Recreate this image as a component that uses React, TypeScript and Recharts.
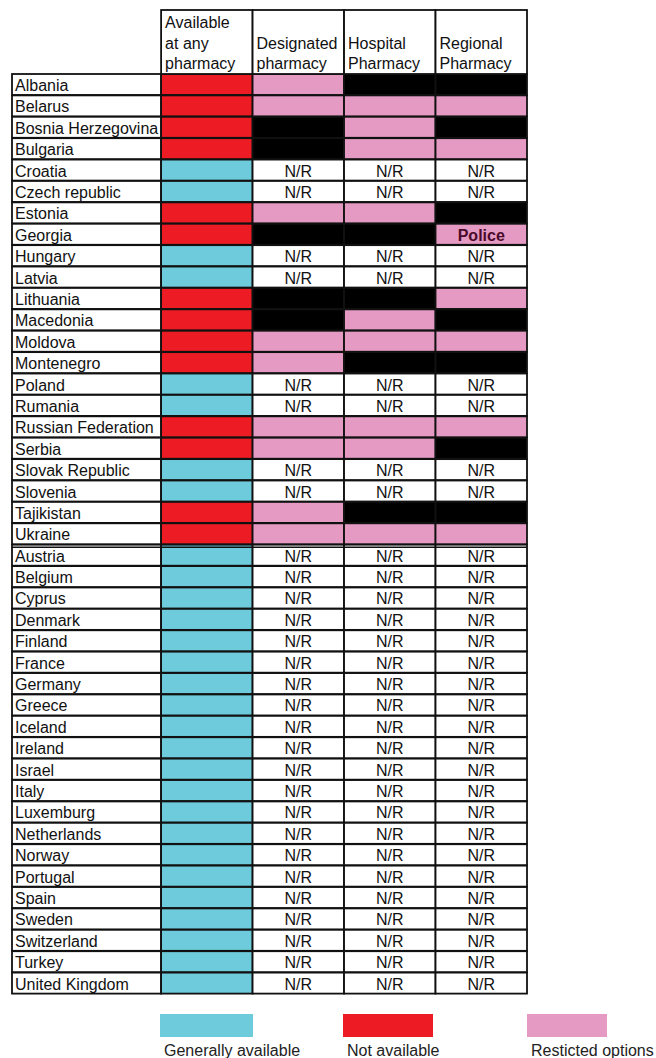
import { BarChart, Bar, XAxis, YAxis, Legend } from 'recharts';

// G = generally available, N = not available, R = restricted,
// X = not an option (black), '-' = N/R, P = restricted (Police)
const COUNTRIES = [
  'Albania', 'Belarus', 'Bosnia Herzegovina', 'Bulgaria', 'Croatia', 'Czech republic',
  'Estonia', 'Georgia', 'Hungary', 'Latvia', 'Lithuania', 'Macedonia', 'Moldova',
  'Montenegro', 'Poland', 'Rumania', 'Russian Federation', 'Serbia', 'Slovak Republic',
  'Slovenia', 'Tajikistan', 'Ukraine',
  'Austria', 'Belgium', 'Cyprus', 'Denmark', 'Finland', 'France', 'Germany', 'Greece',
  'Iceland', 'Ireland', 'Israel', 'Italy', 'Luxemburg', 'Netherlands', 'Norway',
  'Portugal', 'Spain', 'Sweden', 'Switzerland', 'Turkey', 'United Kingdom',
];

const ANY_PHARMACY = [
  'N', 'N', 'N', 'N', 'G', 'G', 'N', 'N', 'G', 'G', 'N', 'N', 'N', 'N', 'G', 'G', 'N', 'N', 'G', 'G', 'N', 'N',
  'G', 'G', 'G', 'G', 'G', 'G', 'G', 'G', 'G', 'G', 'G', 'G', 'G', 'G', 'G', 'G', 'G', 'G', 'G', 'G', 'G',
];
const DESIGNATED = [
  'R', 'R', 'X', 'X', '-', '-', 'R', 'X', '-', '-', 'X', 'X', 'R', 'R', '-', '-', 'R', 'R', '-', '-', 'R', 'R',
  '-', '-', '-', '-', '-', '-', '-', '-', '-', '-', '-', '-', '-', '-', '-', '-', '-', '-', '-', '-', '-',
];
const HOSPITAL = [
  'X', 'R', 'R', 'R', '-', '-', 'R', 'X', '-', '-', 'X', 'R', 'R', 'X', '-', '-', 'R', 'R', '-', '-', 'X', 'R',
  '-', '-', '-', '-', '-', '-', '-', '-', '-', '-', '-', '-', '-', '-', '-', '-', '-', '-', '-', '-', '-',
];
const REGIONAL = [
  'X', 'R', 'X', 'R', '-', '-', 'X', 'P', '-', '-', 'R', 'X', 'R', 'X', '-', '-', 'R', 'X', '-', '-', 'X', 'R',
  '-', '-', '-', '-', '-', '-', '-', '-', '-', '-', '-', '-', '-', '-', '-', '-', '-', '-', '-', '-', '-',
];

const COLUMN_LABELS = [
  ['Available', 'at any', 'pharmacy'],
  ['Designated', 'pharmacy'],
  ['Hospital', 'Pharmacy'],
  ['Regional', 'Pharmacy'],
];

const LEGEND_ITEMS = [
  { label: 'Generally available', code: 'G' },
  { label: 'Not available', code: 'N' },
  { label: 'Resticted options', code: 'R' },
];

const FIRST_WESTERN = 'Austria';

const COLORS: Record<string, string> = {
  G: '#6dcbdb',
  N: '#ed1c24',
  R: '#e49ac2',
  P: '#e49ac2',
  X: '#000000',
  '-': '#ffffff',
};

const FONT = '"Liberation Sans", Arial, sans-serif';
const FONT_SIZE = 16;
const LINE = '#111';

const WIDTH = 656;
const HEIGHT = 1058;
const MARGIN = { top: 10, right: 129, bottom: 2, left: 12 };
const HEADER_H = 64;
const LABEL_UNITS = 1.63;
const TOTAL = LABEL_UNITS + 4;
const COL_W = (WIDTH - MARGIN.left - MARGIN.right) / TOTAL;
const HEADER_TICKS = [0, 1, 2, 3].map((i) => LABEL_UNITS + i + 0.5);

const rows = COUNTRIES.map((country, i) => ({
  country,
  label: LABEL_UNITS,
  c0: 1,
  c1: 1,
  c2: 1,
  c3: 1,
  s0: ANY_PHARMACY[i],
  s1: DESIGNATED[i],
  s2: HOSPITAL[i],
  s3: REGIONAL[i],
}));

function separator(props: any) {
  const { x, y, width, payload } = props;
  if (payload.country !== FIRST_WESTERN) return null;
  return <line x1={x} x2={x + width} y1={y + 2.5} y2={y + 2.5} stroke={LINE} strokeWidth={1.5} />;
}

function renderLabel(props: any) {
  const { x, y, width, height, payload } = props;
  return (
    <g>
      <rect x={x} y={y} width={width} height={height} fill="#fff" stroke={LINE} strokeWidth={1.8} />
      {separator(props)}
      <text x={x + 3} y={y + height - 4} fontFamily={FONT} fontSize={FONT_SIZE} fill="#111">
        {payload.country}
      </text>
    </g>
  );
}

function renderStatus(props: any, col: number) {
  const { x, y, width, height, payload } = props;
  const code = payload[`s${col}`];
  return (
    <g>
      <rect x={x} y={y} width={width} height={height} fill={COLORS[code]} stroke={LINE} strokeWidth={1.8} />
      {separator(props)}
      {code === '-' && (
        <text x={x + width / 2} y={y + height - 4} textAnchor="middle" fontFamily={FONT} fontSize={FONT_SIZE} fill="#111">
          N/R
        </text>
      )}
      {code === 'P' && (
        <text x={x + width / 2} y={y + height - 4} textAnchor="middle" fontFamily={FONT} fontSize={FONT_SIZE} fontWeight={700} fill="#4a0a2a">
          Police
        </text>
      )}
    </g>
  );
}

function HeaderTick(props: any) {
  const { x, y, index } = props;
  const lines = COLUMN_LABELS[index] || [];
  const left = x - COL_W / 2;
  return (
    <g>
      <rect x={left} y={y - HEADER_H} width={COL_W} height={HEADER_H} fill="#fff" stroke={LINE} strokeWidth={1.8} />
      {lines.map((line, i) => (
        <text
          key={line}
          x={left + 4}
          y={y - 5 - (lines.length - 1 - i) * 20.5}
          fontFamily={FONT}
          fontSize={FONT_SIZE}
          fill="#111"
        >
          {line}
        </text>
      ))}
    </g>
  );
}

const LEGEND_LEFT = [160, 343, 527];
const LEGEND_BOX_W = [93, 90, 80];

function LegendContent() {
  return (
    <div style={{ position: 'relative', width: WIDTH, height: 62, fontFamily: FONT }}>
      {LEGEND_ITEMS.map((item, i) => (
        <div key={item.label}>
          <div
            style={{
              position: 'absolute',
              left: LEGEND_LEFT[i],
              top: 20,
              width: LEGEND_BOX_W[i],
              height: 23,
              background: COLORS[item.code],
            }}
          />
          <div
            style={{
              position: 'absolute',
              left: LEGEND_LEFT[i] + 4,
              top: 49,
              fontSize: FONT_SIZE,
              lineHeight: '16px',
              color: '#222',
              whiteSpace: 'nowrap',
            }}
          >
            {item.label}
          </div>
        </div>
      ))}
    </div>
  );
}

export default function App() {
  return (
    <div style={{ position: 'absolute', left: 0, top: 0, background: '#fff' }}>
      <BarChart
        width={WIDTH}
        height={HEIGHT}
        data={rows}
        layout="vertical"
        margin={MARGIN}
        barCategoryGap={0}
      >
        <XAxis
          type="number"
          orientation="top"
          domain={[0, TOTAL]}
          ticks={HEADER_TICKS}
          interval={0}
          height={HEADER_H}
          tickSize={0}
          tickMargin={0}
          axisLine={false}
          tick={<HeaderTick />}
        />
        <YAxis type="category" dataKey="country" hide />
        <Legend
          verticalAlign="bottom"
          content={<LegendContent />}
          wrapperStyle={{ left: 0, width: WIDTH }}
        />
        <Bar dataKey="label" stackId="t" isAnimationActive={false} shape={renderLabel} />
        {[0, 1, 2, 3].map((col) => (
          <Bar
            key={col}
            dataKey={`c${col}`}
            stackId="t"
            isAnimationActive={false}
            shape={(p: any) => renderStatus(p, col)}
          />
        ))}
      </BarChart>
    </div>
  );
}
